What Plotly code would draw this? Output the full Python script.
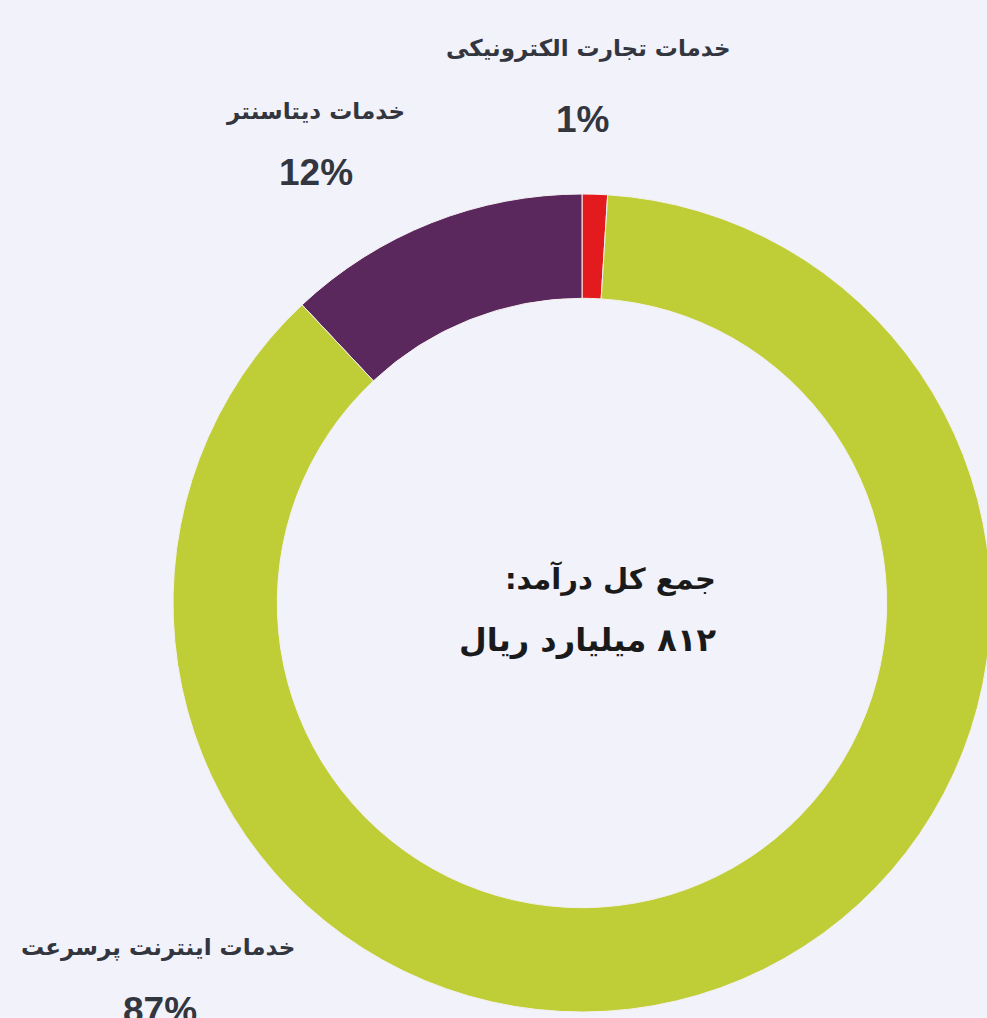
import plotly.graph_objects as go

# ── Data ─────────────────────────────────────────────────────────────────────
segments = ["خدمات تجارت الکترونیکی", "خدمات دیتاسنتر", "خدمات اینترنت پرسرعت"]
shares = [1, 12, 87]
total_title = "جمع کل درآمد:"
total_value = "۸۱۲ میلیارد ریال"

# ── Style ────────────────────────────────────────────────────────────────────
BG = "#f1f2fa"
COLORS = ["#e31b1f", "#5b285e", "#bfcd36"]
TEXT_DARK = "#33363e"
FA_FONT = "DejaVu Sans"
NUM_FONT = "Liberation Sans"

# figure is a bit larger than the window, the window crops right / bottom
W, H = 1000, 1030


def rtl(s):
    # right-to-left embedding so digits / colon land on the proper side
    return "\u202b" + s + "\u202c"


def px(x, y):
    """page pixel -> paper coords"""
    return x / W, 1 - y / H


# donut geometry (page pixels)
cx, cy, R = 582, 603, 409
dx0, dx1 = (cx - R) / W, (cx + R) / W
dy1, dy0 = 1 - (cy - R) / H, 1 - (cy + R) / H

fig = go.Figure(go.Pie(
    labels=segments,
    values=shares,
    hole=0.745,
    sort=False,
    direction="counterclockwise",
    rotation=0,
    marker=dict(colors=COLORS, line=dict(color="#f4f1f0", width=1)),
    textinfo="none",
    hoverinfo="label+percent",
    domain=dict(x=[dx0, dx1], y=[dy0, dy1]),
    showlegend=False,
))

# segment labels (name above, percent below)
label_pos = [(588, 48, 582, 120), (315, 111, 316, 172), (158, 947, 160, 1010)]
for name, val, (lx, ly, vx, vy) in zip(segments, shares, label_pos):
    x, y = px(lx, ly)
    fig.add_annotation(x=x, y=y, xref="paper", yref="paper", text=f"<b>{rtl(name)}</b>",
                       showarrow=False, xanchor="center", yanchor="middle",
                       font=dict(family=FA_FONT, size=23, color=TEXT_DARK))
    x, y = px(vx, vy)
    fig.add_annotation(x=x, y=y, xref="paper", yref="paper", text=f"<b>{val}%</b>",
                       showarrow=False, xanchor="center", yanchor="middle",
                       font=dict(family=NUM_FONT, size=37, color=TEXT_DARK))

# centre text, right aligned
x, y = px(718, 578)
fig.add_annotation(x=x, y=y, xref="paper", yref="paper", text=f"<b>{rtl(total_title)}</b>",
                   showarrow=False, xanchor="right", yanchor="middle", align="right",
                   font=dict(family=FA_FONT, size=29, color="#1a1a1a"))
x, y = px(718, 640)
fig.add_annotation(x=x, y=y, xref="paper", yref="paper", text=f"<b>{rtl(total_value)}</b>",
                   showarrow=False, xanchor="right", yanchor="middle", align="right",
                   font=dict(family=FA_FONT, size=32, color="#1a1a1a"))

fig.update_layout(
    width=W, height=H,
    margin=dict(l=0, r=0, t=0, b=0),
    paper_bgcolor=BG,
    plot_bgcolor=BG,
)

fig.write_html(
    "out.html",
    config={"displayModeBar": False},
    post_script=("document.body.style.margin='0';"
                 "document.body.style.overflow='hidden';"
                 f"document.body.style.background='{BG}';"),
)
